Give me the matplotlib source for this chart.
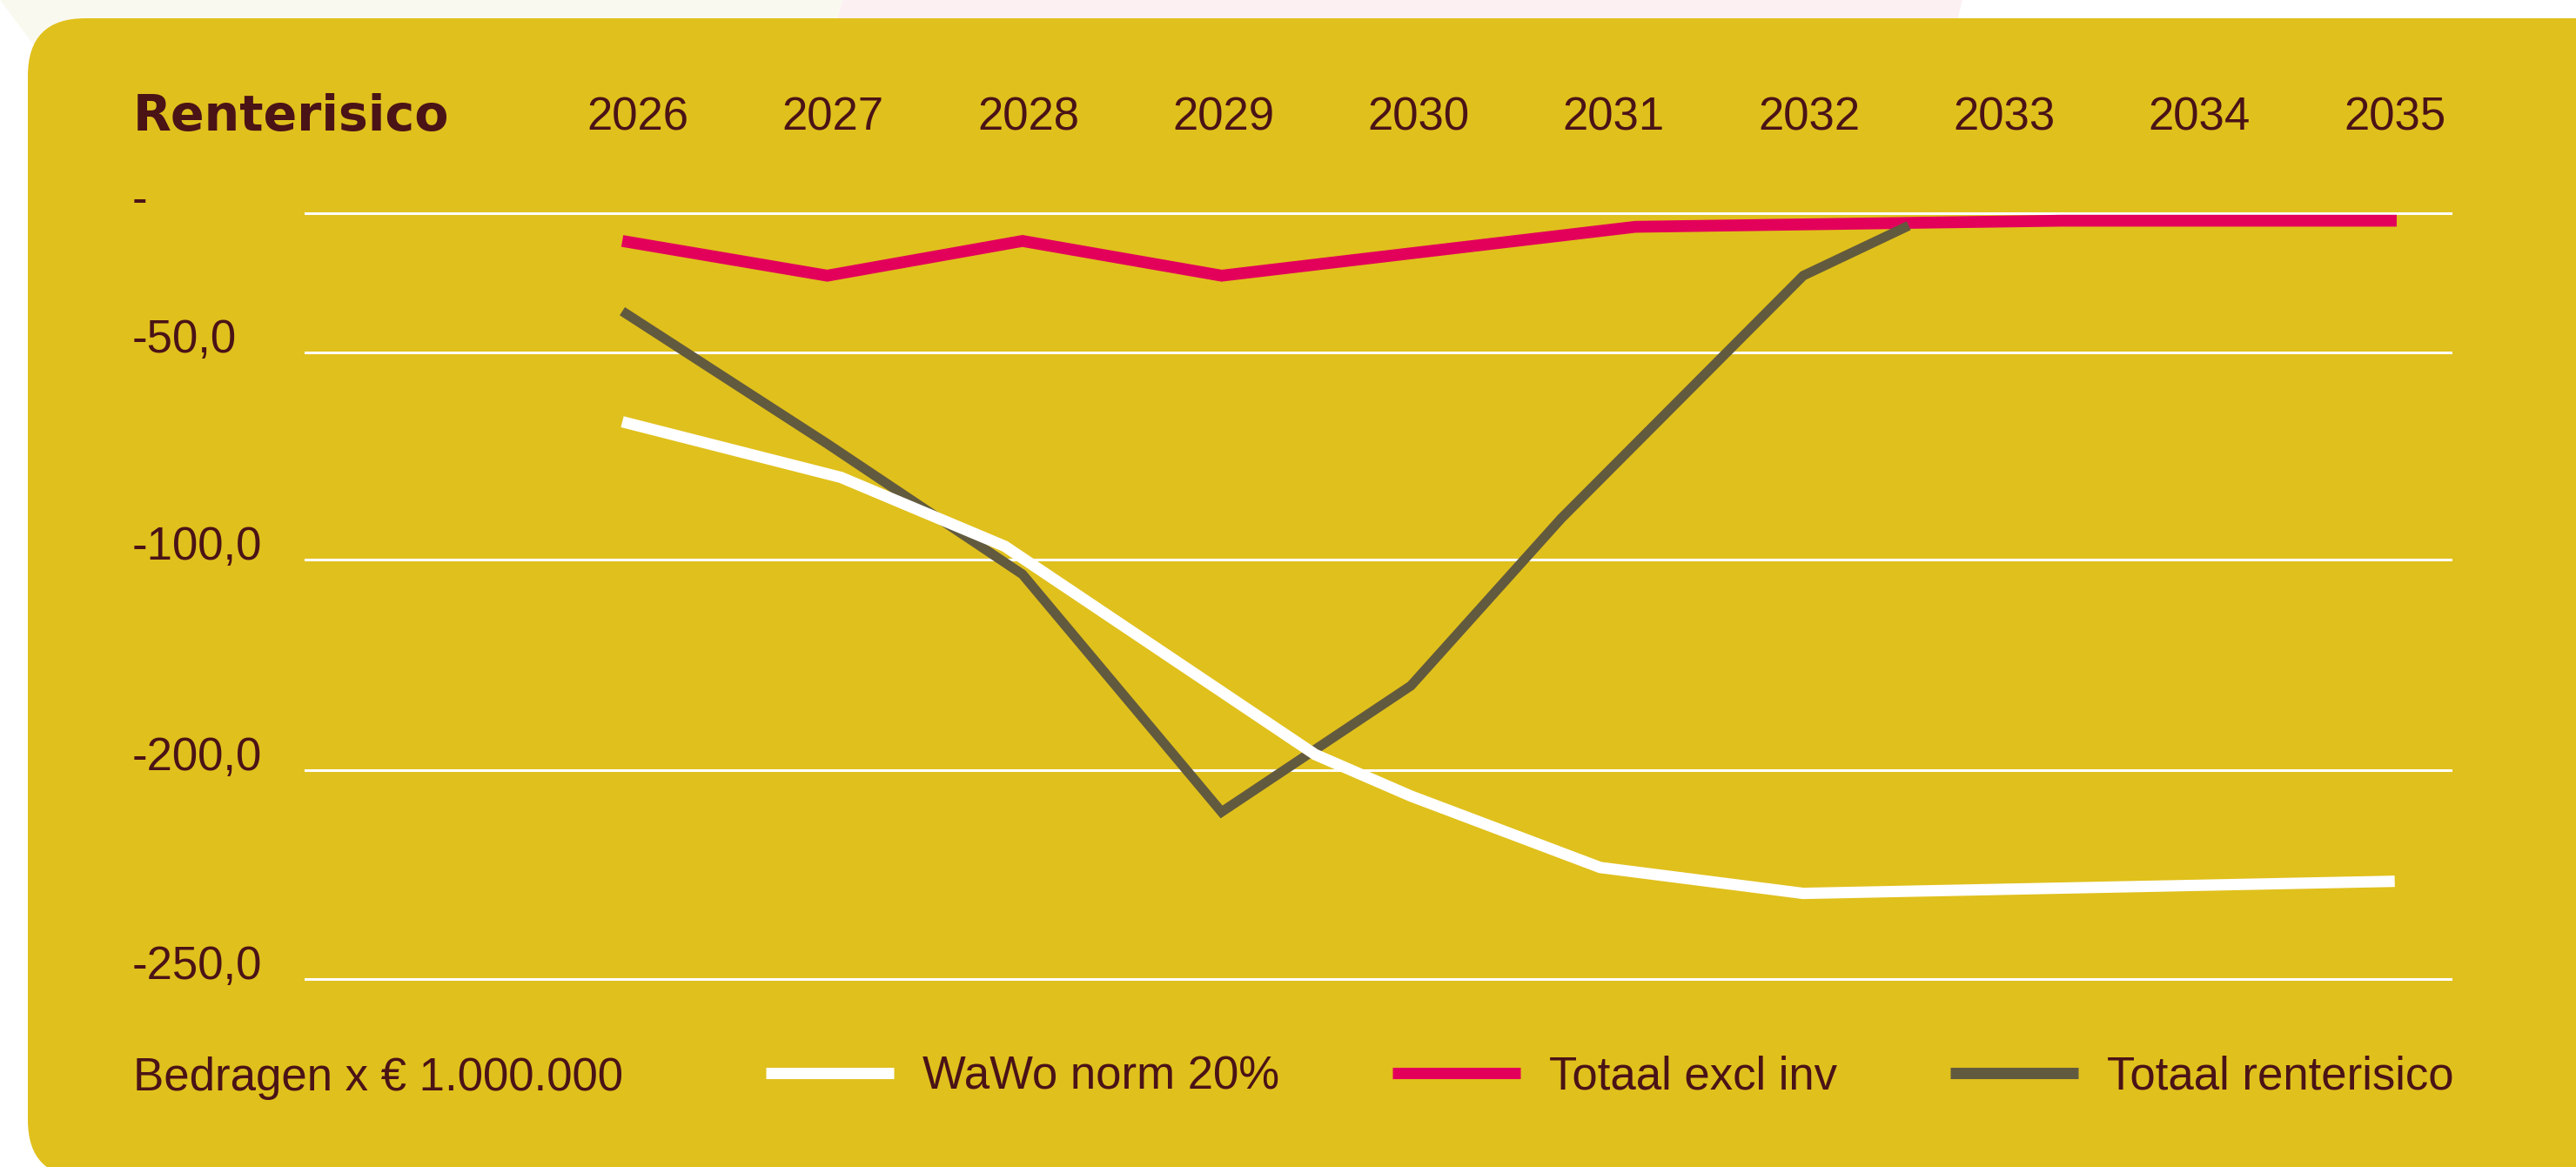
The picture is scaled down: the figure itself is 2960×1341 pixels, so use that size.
import numpy as np
import matplotlib
matplotlib.use("Agg")
import matplotlib.pyplot as plt
from matplotlib.patches import FancyBboxPatch, Polygon
from matplotlib.lines import Line2D
from matplotlib.transforms import blended_transform_factory, IdentityTransform

plt.rcParams['font.family'] = ['Liberation Sans', 'DejaVu Sans']

# ---------------- data ----------------
years = [2026, 2027, 2028, 2029, 2030, 2031, 2032, 2033, 2034, 2035]
year_labels = [str(y) for y in years]

y_ticks = [0, -50, -100, -200, -250]
y_tick_labels = ['-', '-50,0', '-100,0', '-200,0', '-250,0']

# WaWo norm 20%
wawo_x = [2025.92, 2027.04, 2027.88, 2029.47, 2029.96, 2030.93, 2031.97, 2035.00]
wawo_y = [-66.8, -80.2, -96.8, -192.6, -206.2, -223.3, -229.5, -226.6]

# Totaal excl inv
excl_x = [2025.92, 2026.97, 2027.97, 2028.99, 2031.11, 2033.29, 2035.01]
excl_y = [-10.0, -22.5, -10.0, -22.5, -4.9, -2.7, -2.7]

# Totaal renterisico
tot_x = [2025.92, 2026.97, 2027.97, 2028.99, 2029.96, 2030.73, 2031.97, 2032.51]
tot_y = [-35.3, -72.1, -107.0, -210.0, -159.9, -90.1, -22.5, -4.5]

series_labels = ['WaWo norm 20%', 'Totaal excl inv', 'Totaal renterisico']
title = 'Renterisico'
unit_note = 'Bedragen x € 1.000.000'

# ---------------- style ----------------
W, H = 2960, 1341
YELLOW = '#E0C01C'
MAROON = '#4A1316'
RED = '#E3005B'
GREY = '#625A3E'
WHITE = '#FFFFFF'
CREAM = '#FAF9F0'
PINK = '#FCF0F3'


def fx(px):
    return px / W


def fy(py):
    return 1 - py / H


fig = plt.figure(figsize=(W / 100, H / 100), dpi=100)
fig.patch.set_facecolor('white')

# faint background shapes at the top
ident = IdentityTransform()
cream = Polygon([(0, H), (968, H), (920, H - 200), (150, H - 200)], closed=True,
                facecolor=CREAM, edgecolor='none', transform=ident, zorder=0)
pink = Polygon([(968, H), (2255, H), (2205, H - 200), (920, H - 200)], closed=True,
               facecolor=PINK, edgecolor='none', transform=ident, zorder=0)
fig.add_artist(cream)
fig.add_artist(pink)

# yellow rounded panel
panel = FancyBboxPatch((32, -12), 3200, H - 21 + 12, boxstyle='round,pad=0,rounding_size=66',
                       facecolor=YELLOW, edgecolor='none', transform=ident, zorder=1)
fig.add_artist(panel)

# ---------------- axes ----------------
ax_left, ax_right, ax_top, ax_bottom = 351, 2816, 245, 1125
ax = fig.add_axes([fx(ax_left), fy(ax_bottom), (ax_right - ax_left) / W, (ax_bottom - ax_top) / H])
ax.set_facecolor('none')
ax.set_zorder(2)

# non-uniform vertical scale as in the original (label spacing is irregular)
_vals = np.array([-250, -200, -100, -50, 0], dtype=float)
_pos = np.array([0, 240, 482, 720.5, 880], dtype=float)


def fwd(y):
    return np.interp(y, _vals, _pos)


def inv(v):
    return np.interp(v, _pos, _vals)


ax.set_yscale('function', functions=(fwd, inv))
ax.set_ylim(-250, 0)
x_per_year = 224.3
x_2026 = 733
ax.set_xlim(2026 + (ax_left - x_2026) / x_per_year, 2026 + (ax_right - x_2026) / x_per_year)

for s in ax.spines.values():
    s.set_visible(False)
ax.set_xticks([])
ax.set_yticks([])

# gridlines
for t in y_ticks:
    ax.axhline(t, color=WHITE, lw=2.2, zorder=1, clip_on=False)

# series
ax.plot(excl_x, excl_y, color=RED, lw=9.8, solid_capstyle='butt', solid_joinstyle='miter',
        clip_on=False, zorder=3)
ax.plot(tot_x, tot_y, color=GREY, lw=8.0, solid_capstyle='butt', solid_joinstyle='miter',
        clip_on=False, zorder=4)
ax.plot(wawo_x, wawo_y, color=WHITE, lw=9.4, solid_capstyle='butt', solid_joinstyle='miter',
        clip_on=False, zorder=5)

# year labels (top)
tr_x = blended_transform_factory(ax.transData, ax.transAxes)
year_base = (ax_bottom - 150) / (ax_bottom - ax_top)
for yr, lab in zip(years, year_labels):
    ax.text(yr, year_base, lab, transform=tr_x, ha='center', va='baseline',
            fontsize=38, color=MAROON)

# y labels (left aligned)
tr_y = blended_transform_factory(ax.transAxes, ax.transData)
lab_x = (152 - ax_left) / (ax_right - ax_left)
for t, lab in zip(y_ticks, y_tick_labels):
    ax.text(lab_x, t, lab, transform=tr_y, ha='left', va='baseline', fontsize=38, color=MAROON)

# title
fig.text(fx(153), fy(150), title, fontsize=41, fontweight='bold', family='DejaVu Sans',
         color=MAROON, ha='left', va='baseline', zorder=3)

# unit note
fig.text(fx(153), fy(1253), unit_note, fontsize=38, color=MAROON, ha='left', va='baseline', zorder=3)

# legend
handles = [Line2D([], [], color=c, lw=9.4, solid_capstyle='butt') for c in (WHITE, RED, GREY)]
leg = fig.legend(handles, series_labels, loc='center left', bbox_to_anchor=(fx(880), fy(1237)),
                 bbox_transform=fig.transFigure, ncol=3, frameon=False, fontsize=38,
                 handlelength=147 / 52.8, handletextpad=33 / 52.8, columnspacing=130 / 52.8,
                 borderpad=0, borderaxespad=0, labelcolor=MAROON)
leg.set_zorder(3)

fig.savefig('out.png', dpi=100)
